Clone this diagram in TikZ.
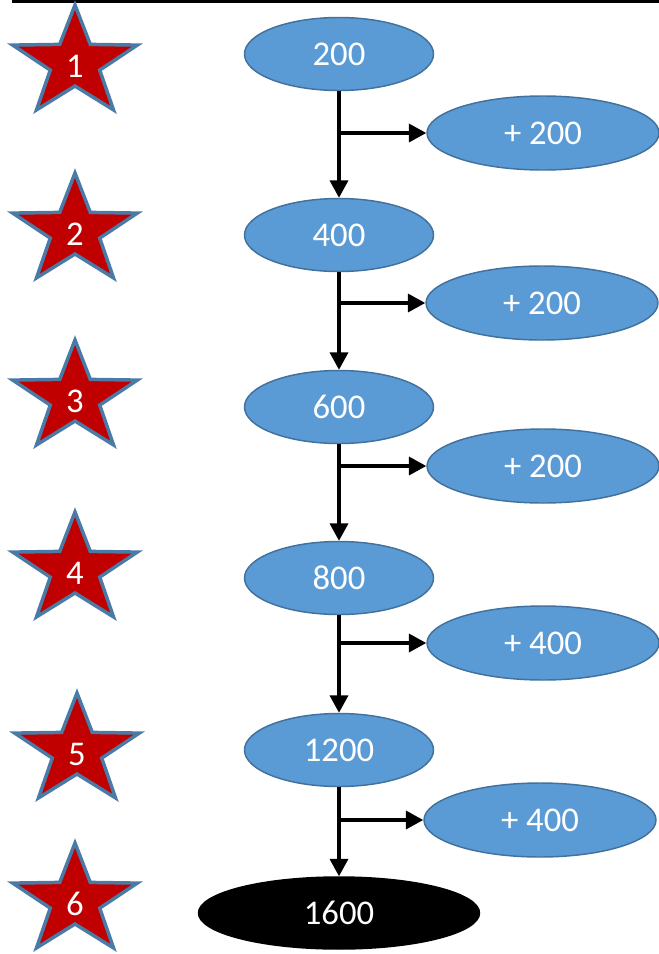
\documentclass[tikz,border=0pt]{standalone}
\usepackage{fontspec}
\setmainfont{Carlito}
\usetikzlibrary{shapes.geometric,arrows.meta}
\definecolor{ellfill}{HTML}{5B9BD5}
\definecolor{ellline}{HTML}{41719C}
\definecolor{starfill}{HTML}{C00000}
\definecolor{starline}{HTML}{4A7BA7}
\begin{document}
\begin{tikzpicture}[x=0.75pt,y=-0.75pt,
  mainell/.style={ellipse, draw=ellline, line width=1.1pt, fill=ellfill, text=white,
    minimum width=141.75pt, minimum height=54.75pt, inner sep=0pt,
    font=\fontsize{26}{30}\selectfont},
  sideell/.style={mainell, minimum width=174pt, minimum height=55.5pt},
  finalell/.style={mainell, fill=black, draw=black, minimum width=210.75pt, minimum height=54pt},
  flow/.style={line width=2.5pt, -{Triangle[length=13pt,width=13.5pt]}},
  starbody/.style={fill=starfill, draw=starline, line width=2.6pt, line join=miter},
  starlabel/.style={text=white, inner sep=0pt, font=\fontsize{26}{30}\selectfont}]
\useasboundingbox (0,0) rectangle (659,954);

% top rule
\draw[line width=2.6pt] (12,1.7) -- (659,1.7);

% stars
\foreach \cx/\cy/\n in {75/63/1, 75/231/2, 75/398/3, 75/570/4, 77/751/5, 75/901/6}{
  \begin{scope}[shift={(\cx,\cy)}, xscale=1.13]
    \draw[starbody] (-90:58) -- (-54:23) -- (-18:58) -- (18:23) -- (54:58)
      -- (90:23) -- (126:58) -- (162:23) -- (198:58) -- (234:23) -- cycle;
  \end{scope}
  \node[starlabel] (st\n) at (\cx,\cy+3) {\n};
}

% main chain
\node[mainell] (m1) at (339,54) {200};
\node[mainell] (m2) at (339,235) {400};
\node[mainell] (m3) at (339,407) {600};
\node[mainell] (m4) at (339,578) {800};
\node[mainell] (m5) at (339,750) {1200};
\node[finalell] (m6) at (339,913) {1600};

% side ellipses
\node[sideell] (s1) at (543,133) {+ 200};
\node[sideell] (s2) at (542,303) {+ 200};
\node[sideell] (s3) at (543,466) {+ 200};
\node[sideell] (s4) at (543,643) {+ 400};
\node[sideell] (s5) at (540,820) {+ 400};

% connectors
\foreach \a/\b in {1/2,2/3,3/4,4/5,5/6}{
  \draw[flow] (m\a.south) -- (m\b.north);
  \draw[flow] (m\a.south |- s\a.west) -- (s\a.west);
}
\end{tikzpicture}
\end{document}
